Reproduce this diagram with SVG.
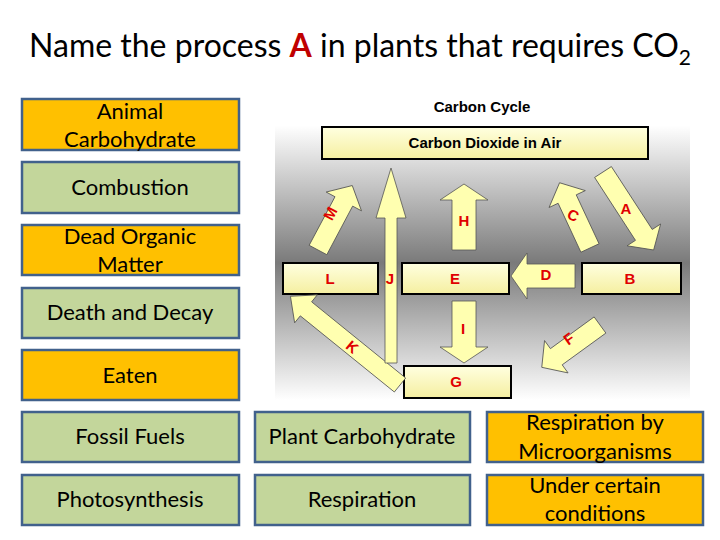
<svg xmlns="http://www.w3.org/2000/svg" width="720" height="540" viewBox="0 0 720 540">
<style>
.t{font-family:Lato,"Liberation Sans",sans-serif;fill:#000}
.b{font-size:22px;text-anchor:middle}
.o{fill:#FFC000;stroke:#41618C;stroke-width:2.5}
.g{fill:#C3D69B;stroke:#41618C;stroke-width:2.5}
.bx{fill:url(#yb);stroke:#000;stroke-width:2}
.ar{fill:#FFFFB0;stroke:#555;stroke-width:0.8}
.l{font-family:"Liberation Sans",Arial,sans-serif;font-weight:bold;font-size:15px;fill:#E00000;text-anchor:middle}
</style>
<defs>
<linearGradient id="bg" x1="0" y1="0" x2="0" y2="1">
<stop offset="0" stop-color="#fff"/><stop offset="0.1" stop-color="#fff"/><stop offset="0.55" stop-color="#7a7a7a"/><stop offset="1" stop-color="#fff"/>
</linearGradient>
<linearGradient id="yb" x1="0" y1="0" x2="0" y2="1"><stop offset="0" stop-color="#FFFFE0"/><stop offset="1" stop-color="#F5EFA0"/></linearGradient>
</defs>
<rect width="720" height="540" fill="#fff"/>
<text class="t" x="360" y="57" font-size="32" text-anchor="middle">Name the process <tspan fill="#C00000" font-weight="bold">A</tspan> in plants that requires CO<tspan font-size="21" dy="8">2</tspan></text>
<g id="picture">
<rect x="275" y="95" width="415" height="305" fill="url(#bg)"/>
<text x="482" y="112" font-family="Liberation Sans,Arial,sans-serif" font-weight="bold" font-size="15" text-anchor="middle">Carbon Cycle</text>
<g id="co2"><rect class="bx" x="322" y="127" width="326" height="32"/><text x="485" y="148" font-family="Liberation Sans,Arial,sans-serif" font-weight="bold" font-size="15" text-anchor="middle">Carbon Dioxide in Air</text></g>
<g id="nL"><rect class="bx" x="283" y="263" width="95" height="31"/><text class="l" x="330" y="284">L</text></g>
<g id="nE"><rect class="bx" x="402" y="263" width="107" height="31"/><text class="l" x="455" y="284">E</text></g>
<g id="nB"><rect class="bx" x="582" y="263" width="99" height="31"/><text class="l" x="630" y="284">B</text></g>
<g id="nG"><rect class="bx" x="404" y="366" width="107" height="32"/><text class="l" x="456" y="387">G</text></g>
<g id="arrows">
<polygon class="ar" transform="translate(318,250) rotate(-62)" points="0,-10 55,-10 55,-20 73,0 55,20 55,10 0,10"/>
<polygon class="ar" transform="translate(590,248) rotate(-115)" points="0,-10 54,-10 54,-20 72,0 54,20 54,10 0,10"/>
<polygon class="ar" transform="translate(603,172) rotate(57)" points="0,-10 75,-10 75,-20 93,0 75,20 75,10 0,10"/>
<polygon class="ar" transform="translate(400,385) rotate(219)" points="0,-9 121,-9 121,-18 141,0 121,18 121,9 0,9"/>
<polygon class="ar" transform="translate(600,325) rotate(144)" points="0,-10 54,-10 54,-20 72,0 54,20 54,10 0,10"/>
<polygon class="ar" transform="translate(391,363) rotate(-90)" points="0,-6 145,-6 145,-15 195,0 145,15 145,6 0,6"/>
<polygon class="ar" transform="translate(464,250) rotate(-90)" points="0,-12 50,-12 50,-24 66,0 50,24 50,12 0,12"/>
<polygon class="ar" transform="translate(464,301) rotate(90)" points="0,-12 46,-12 46,-24 62,0 46,24 46,12 0,12"/>
<polygon class="ar" transform="translate(575,276) rotate(180)" points="0,-12 48,-12 48,-23 64,0 48,23 48,12 0,12"/>
</g>
<text class="l" transform="translate(335,216) rotate(-62)">M</text>
<text class="l" transform="translate(571,220) rotate(25)">C</text>
<text class="l" x="626" y="214">A</text>
<text class="l" x="464" y="226">H</text>
<text class="l" x="390" y="284">J</text>
<text class="l" x="546" y="280">D</text>
<text class="l" x="463" y="334">I</text>
<text class="l" transform="translate(349,351) rotate(40)">K</text>
<text class="l" transform="translate(572,343) rotate(-36)">F</text>
</g>
<g id="b1"><rect class="o" x="22" y="99" width="217" height="51"/><text class="t b" x="130" y="119">Animal</text><text class="t b" x="130" y="147">Carbohydrate</text></g>
<g id="b2"><rect class="g" x="22" y="162" width="217" height="51"/><text class="t b" x="130" y="195">Combustion</text></g>
<g id="b3"><rect class="o" x="22" y="225" width="217" height="50"/><text class="t b" x="130" y="244">Dead Organic</text><text class="t b" x="130" y="272">Matter</text></g>
<g id="b4"><rect class="g" x="22" y="288" width="217" height="50"/><text class="t b" x="130" y="320">Death and Decay</text></g>
<g id="b5"><rect class="o" x="22" y="350" width="217" height="50"/><text class="t b" x="130" y="383">Eaten</text></g>
<g id="b6"><rect class="g" x="22" y="412" width="217" height="50"/><text class="t b" x="130" y="444">Fossil Fuels</text></g>
<g id="b7"><rect class="g" x="22" y="475" width="217" height="50"/><text class="t b" x="130" y="507">Photosynthesis</text></g>
<g id="b8"><rect class="g" x="255" y="412" width="215" height="50"/><text class="t b" x="362" y="444">Plant Carbohydrate</text></g>
<g id="b9"><rect class="g" x="255" y="475" width="215" height="50"/><text class="t b" x="362" y="507">Respiration</text></g>
<g id="b10"><rect class="o" x="487" y="412" width="216" height="50"/><text class="t b" x="595" y="430">Respiration by</text><text class="t b" x="595" y="459">Microorganisms</text></g>
<g id="b11"><rect class="o" x="487" y="475" width="216" height="50"/><text class="t b" x="595" y="493">Under certain</text><text class="t b" x="595" y="521">conditions</text></g>
</svg>
